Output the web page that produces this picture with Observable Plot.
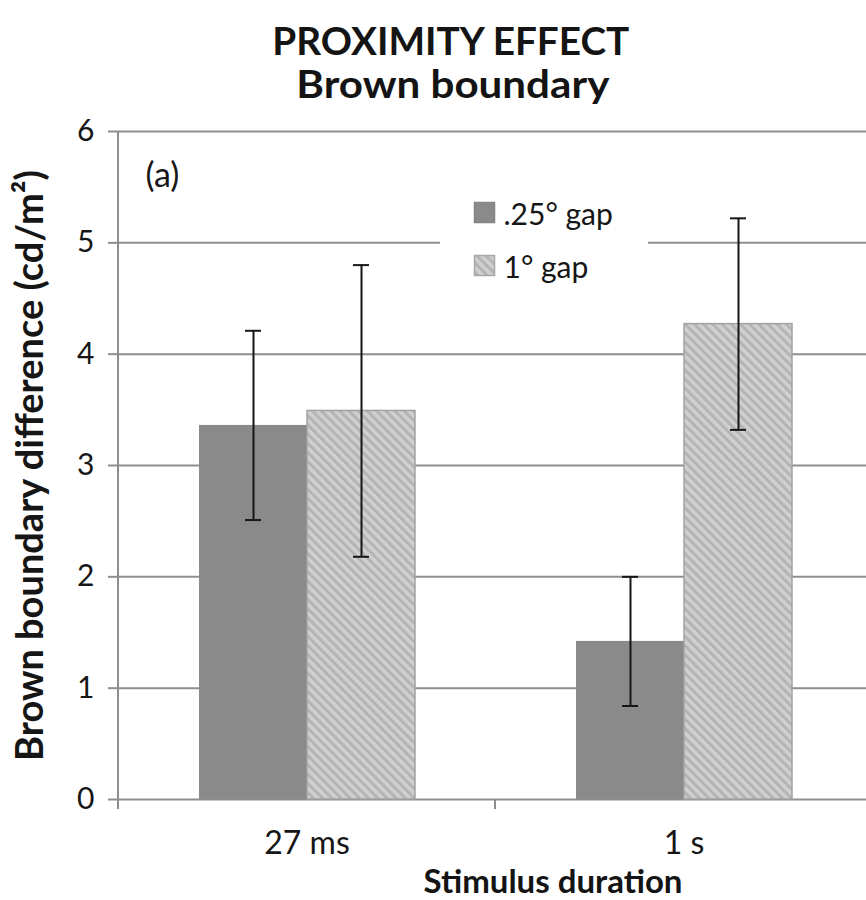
<!DOCTYPE html>
<html>
<head>
<meta charset="utf-8">
<script src="https://cdn.jsdelivr.net/npm/d3@7"></script>
<script src="https://cdn.jsdelivr.net/npm/@observablehq/plot@0.6"></script>
<style>
  html, body { margin: 0; padding: 0; background: #fff; overflow: hidden; }
  body { width: 866px; height: 900px; font-family: Lato, "Open Sans", sans-serif; color: #141414; }
  #title { position: relative; height: 110px; }
  .tl { position: absolute; left: 0; text-align: center; font-weight: 700; font-size: 39px; line-height: 39px; white-space: nowrap; }
  .tl span { display: inline-block; transform-origin: 50% 50%; }
  #t1 { top: 21px; width: 902px; }
  #t2 { top: 64px; width: 906px; }
  #chart svg { display: block; }
  #xlabel { position: relative; height: 33px; width: 866px; padding-left: 240px; box-sizing: border-box; text-align: center; font-weight: 700; font-size: 33px; line-height: 33px; margin-top: -2px; white-space: nowrap; }
</style>
</head>
<body>
<div id="title">
  <div class="tl" id="t1"><span>PROXIMITY EFFECT</span></div>
  <div class="tl" id="t2"><span>Brown boundary</span></div>
</div>
<div id="chart"></div>
<div id="xlabel">Stimulus duration</div>
<script>
// ---- data ----
const durations = ["27 ms", "1 s"];
const gaps = [".25° gap", "1° gap"];
const gap025Values = [3.36, 1.42];
const gap025Errors = [0.85, 0.58];
const gap1Values = [3.49, 4.27];
const gap1Errors = [1.31, 0.95];
const yTicks = [0, 1, 2, 3, 4, 5, 6];
const yLabel = "Brown boundary difference (cd/m²)";
const panelLabel = "(a)";

// table built from the arrays
const rows = [];
durations.forEach((d, i) => {
  rows.push({duration: d, gap: gaps[0], value: gap025Values[i], err: gap025Errors[i]});
  rows.push({duration: d, gap: gaps[1], value: gap1Values[i], err: gap1Errors[i]});
});
rows.forEach(r => { r.lo = r.value - r.err; r.hi = r.value + r.err; });

// fit title lines to the reference widths
[["t1", 357], ["t2", 313]].forEach(([id, w]) => {
  const s = document.querySelector("#" + id + " span");
  const k = w / s.getBoundingClientRect().width;
  s.style.transform = `scaleX(${k})`;
});

// ---- layout constants ----
const W = 866, H = 756, ML = 118, MR = -6, MT = 21, MB = 67;
const FW = (W - ML - MR) / 2;      // facet width
const FH = H - MT - MB;            // frame height
const PAD_OUT = 0.73;
const BW = FW / (2 + 2 * PAD_OUT); // bar width
const CAP = 17;
const GRID = "#8e8e8e";
const INK = "#161616";
const DARK = "#8a8a8a";

const chart = Plot.plot({
  width: W, height: H,
  marginTop: MT, marginBottom: MB, marginLeft: ML, marginRight: MR,
  style: {fontFamily: "Lato, 'Open Sans', sans-serif", background: "white", color: INK},
  fx: {domain: durations, padding: 0, label: null},
  x: {domain: gaps, paddingInner: 0, paddingOuter: PAD_OUT, axis: null},
  y: {domain: [0, 6]},
  marks: [
    Plot.gridY(yTicks, {stroke: GRID, strokeOpacity: 1, strokeWidth: 2}),
    // y axis line and category boundary ticks
    Plot.rect([durations[0]], {fx: d => d, fill: GRID, insetLeft: -1, insetRight: FW - 1, insetBottom: -10}),
    Plot.rect(durations, {fx: d => d, fill: GRID, insetLeft: -1, insetRight: FW - 1, insetTop: FH, insetBottom: -10}),
    Plot.axisY(yTicks, {tickSize: 10, tickPadding: 14, stroke: GRID, strokeWidth: 2, fill: INK, fontSize: 30, label: null, tickFormat: d => String(d)}),
    Plot.axisFx({anchor: "bottom", tickSize: 0, tickPadding: 32, fontSize: 32, fill: INK, label: null}),
    // bars
    Plot.barY(rows.filter(r => r.gap === gaps[0]), {fx: "duration", x: "gap", y: "value", fill: DARK}),
    Plot.barY(rows.filter(r => r.gap === gaps[1]), {fx: "duration", x: "gap", y: "value", fill: "url(#hatch)", stroke: "#a2a2a2", strokeWidth: 1.5}),
    // error bars
    Plot.ruleX(rows, {fx: "duration", x: "gap", y1: "lo", y2: "hi", stroke: INK, strokeWidth: 2}),
    Plot.tickY(rows, {fx: "duration", x: "gap", y: "hi", stroke: INK, strokeWidth: 2, insetLeft: (BW - CAP) / 2, insetRight: (BW - CAP) / 2}),
    Plot.tickY(rows, {fx: "duration", x: "gap", y: "lo", stroke: INK, strokeWidth: 2, insetLeft: (BW - CAP) / 2, insetRight: (BW - CAP) / 2}),
    // legend (anchored in the second facet)
    Plot.rect([durations[1]], {fx: d => d, fill: "white", insetLeft: -55, insetRight: FW - 153, insetTop: 59, insetBottom: FH - 161}),
    Plot.dot([gaps[0]], {fx: () => durations[1], frameAnchor: "top-left", dx: -11, dy: 81, symbol: "square", r: 11.3, fill: DARK, stroke: "#858585"}),
    Plot.dot([gaps[1]], {fx: () => durations[1], frameAnchor: "top-left", dx: -11, dy: 134, symbol: "square", r: 11.3, fill: "url(#hatch)", stroke: "#a8a8a8", strokeWidth: 1.5}),
    Plot.text([gaps[0]], {fx: () => durations[1], frameAnchor: "top-left", dx: 8, dy: 84, text: d => d, textAnchor: "start", lineAnchor: "middle", fontSize: 30, fill: INK}),
    Plot.text([gaps[1]], {fx: () => durations[1], frameAnchor: "top-left", dx: 8, dy: 137, text: d => d, textAnchor: "start", lineAnchor: "middle", fontSize: 30, fill: INK}),
    // panel label and y label (first facet)
    Plot.text([panelLabel], {fx: () => durations[0], frameAnchor: "top-left", dx: 44, dy: 45, text: d => d, textAnchor: "middle", lineAnchor: "middle", fontSize: 34, fill: INK}),
    Plot.text([yLabel], {fx: () => durations[0], frameAnchor: "left", dx: -88, rotate: -90, text: d => d, textAnchor: "middle", lineAnchor: "middle", fontSize: 38, fontWeight: "bold", fill: INK})
  ]
});

// hatch pattern for the 1° gap series
const defs = d3.select(chart).insert("defs", ":first-child");
const pat = defs.append("pattern")
  .attr("id", "hatch").attr("patternUnits", "userSpaceOnUse")
  .attr("width", 6.5).attr("height", 6.5)
  .attr("patternTransform", "rotate(-45)");
pat.append("rect").attr("width", 6.5).attr("height", 6.5).attr("fill", "#d0d0d0");
pat.append("rect").attr("width", 3).attr("height", 6.5).attr("fill", "#b4b4b4");

document.getElementById("chart").appendChild(chart);
</script>
</body>
</html>
